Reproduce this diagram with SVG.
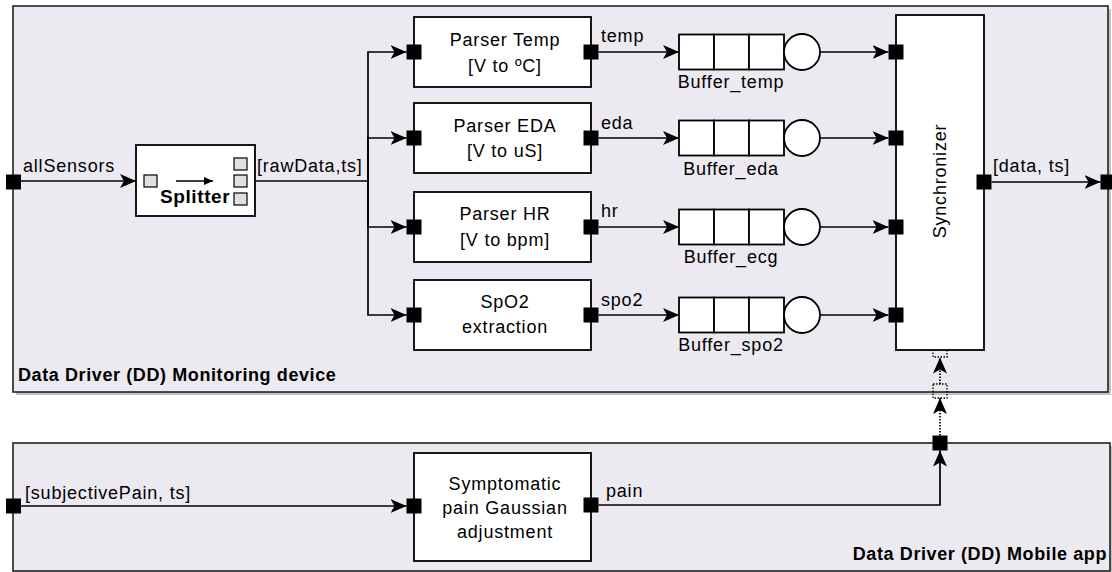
<svg xmlns="http://www.w3.org/2000/svg" width="1112" height="572" viewBox="0 0 1112 572">
<defs>
<style>
.cont{fill:#eceaf0;stroke:#222;stroke-width:1.6}
.shadow{fill:#c4c4c4}
.box{fill:#fff;stroke:#000;stroke-width:1.8}
.port{fill:#000}
.edge{fill:none;stroke:#000;stroke-width:1.7}
.dot{fill:none;stroke:#000;stroke-width:1.7;stroke-dasharray:1.5 1.5}
.dsq{fill:none;stroke:#000;stroke-width:1.3;stroke-dasharray:1.5 1.5}
.t{font-family:"Liberation Sans",Arial,sans-serif;font-size:18px;letter-spacing:0.8px;fill:#000}
.c{text-anchor:middle}
.e{text-anchor:end}
.b{font-weight:bold;letter-spacing:0.6px}
.mini{fill:#e0e0e0;stroke:#000;stroke-width:1.2}
</style>
<marker id="arr" markerUnits="userSpaceOnUse" markerWidth="16" markerHeight="14" viewBox="0 0 16 14" refX="16" refY="7" orient="auto"><path d="M0,0 L16,7 L0,14 L4,7 Z" fill="#000"/></marker>
<marker id="sm" markerUnits="userSpaceOnUse" markerWidth="9" markerHeight="8" viewBox="0 0 9 8" refX="9" refY="4" orient="auto"><path d="M0,0 L9,4 L0,8 Z" fill="#000"/></marker>
</defs>

<g id="dd-monitoring">
<rect class="shadow" x="16" y="9" width="1095" height="386"/>
<rect class="cont" x="13" y="6" width="1095" height="386"/>
<text class="t b" x="18" y="381">Data Driver (DD) Monitoring device</text>
</g>
<g id="dd-mobile">
<rect class="shadow" x="16" y="446" width="1097" height="128"/>
<rect class="cont" x="13" y="443" width="1097" height="128"/>
<text class="t b e" x="1107" y="560">Data Driver (DD) Mobile app</text>
</g>

<g id="connectors">
<path class="edge" d="M20.5 181 H136" marker-end="url(#arr)"/>
<path class="edge" d="M255 181 H368 V52 H406.5" marker-end="url(#arr)"/>
<path class="edge" d="M368 181 V138 H406.5" marker-end="url(#arr)"/>
<path class="edge" d="M368 181 V227 H406.5" marker-end="url(#arr)"/>
<path class="edge" d="M368 181 V315 H406.5" marker-end="url(#arr)"/>
<path class="edge" d="M598.5 52 H679" marker-end="url(#arr)"/>
<path class="edge" d="M598.5 138 H679" marker-end="url(#arr)"/>
<path class="edge" d="M598.5 227 H679" marker-end="url(#arr)"/>
<path class="edge" d="M598.5 315 H679" marker-end="url(#arr)"/>
<path class="edge" d="M820 52 H888.5" marker-end="url(#arr)"/>
<path class="edge" d="M820 138 H888.5" marker-end="url(#arr)"/>
<path class="edge" d="M820 227 H888.5" marker-end="url(#arr)"/>
<path class="edge" d="M820 315 H888.5" marker-end="url(#arr)"/>
<path class="edge" d="M991.5 182 H1100.5" marker-end="url(#arr)"/>
<path class="edge" d="M20.5 506 H406.5" marker-end="url(#arr)"/>
<path class="edge" d="M598.5 505 H940 V450.5" marker-end="url(#arr)"/>
<path class="dot" d="M940 435.5 V398" marker-end="url(#arr)"/>
<path class="dot" d="M940 384 V357.5" marker-end="url(#arr)"/>
<text class="t" x="23" y="172">allSensors</text>
<text class="t" x="257" y="172">[rawData,ts]</text>
<text class="t" x="601" y="42">temp</text>
<text class="t" x="601" y="129">eda</text>
<text class="t" x="601" y="217">hr</text>
<text class="t" x="601" y="306">spo2</text>
<text class="t" x="993" y="172">[data, ts]</text>
<text class="t" x="25" y="499">[subjectivePain, ts]</text>
<text class="t" x="606" y="497">pain</text>
</g>

<g id="port-allSensors"><rect class="port" x="6" y="174.5" width="15" height="15"/></g>
<g id="port-data-out"><rect class="port" x="1100.5" y="174.5" width="15" height="15"/></g>
<g id="port-subjectivePain"><rect class="port" x="6" y="498.5" width="15" height="15"/></g>
<g id="port-pain-out"><rect class="port" x="932.5" y="435.5" width="15" height="15"/></g>
<g id="proxy-ports">
<rect class="dsq" x="933" y="343" width="14" height="14"/>
<rect class="dsq" x="933" y="384" width="14" height="14"/>
</g>

<g id="splitter">
<rect class="box" x="136" y="145" width="119" height="71"/>
<rect class="mini" x="144" y="175" width="13" height="12"/>
<rect class="mini" x="234" y="158" width="13" height="12"/>
<rect class="mini" x="234" y="175" width="13" height="12"/>
<rect class="mini" x="234" y="193" width="13" height="12"/>
<path d="M176 181 H213" stroke="#000" stroke-width="1.5" marker-end="url(#sm)"/>
<text class="t b" x="160" y="203" style="font-size:19px">Splitter</text>
</g>

<g id="parser-temp">
<rect class="box" x="414" y="17" width="177" height="70"/>
<rect class="port" x="406.5" y="44.5" width="15" height="15"/>
<rect class="port" x="583.5" y="44.5" width="15" height="15"/>
<text class="t c" x="505" y="46">Parser Temp</text>
<text class="t c" x="505" y="72">[V to ºC]</text>
</g>
<g id="parser-eda">
<rect class="box" x="414" y="103" width="177" height="70"/>
<rect class="port" x="406.5" y="130.5" width="15" height="15"/>
<rect class="port" x="583.5" y="130.5" width="15" height="15"/>
<text class="t c" x="505" y="132">Parser EDA</text>
<text class="t c" x="505" y="157">[V to uS]</text>
</g>
<g id="parser-hr">
<rect class="box" x="414" y="192" width="177" height="70"/>
<rect class="port" x="406.5" y="219.5" width="15" height="15"/>
<rect class="port" x="583.5" y="219.5" width="15" height="15"/>
<text class="t c" x="505" y="220">Parser HR</text>
<text class="t c" x="505" y="246">[V to bpm]</text>
</g>
<g id="spo2-extraction">
<rect class="box" x="414" y="280" width="177" height="70"/>
<rect class="port" x="406.5" y="307.5" width="15" height="15"/>
<rect class="port" x="583.5" y="307.5" width="15" height="15"/>
<text class="t c" x="505" y="308">SpO2</text>
<text class="t c" x="505" y="333">extraction</text>
</g>

<g id="buffer-temp">
<rect class="box" x="679" y="34.5" width="35" height="35"/>
<rect class="box" x="714" y="34.5" width="35" height="35"/>
<rect class="box" x="749" y="34.5" width="35" height="35"/>
<circle class="box" cx="802" cy="52" r="18"/>
<text class="t c" x="731" y="88">Buffer_temp</text>
</g>
<g id="buffer-eda">
<rect class="box" x="679" y="120.5" width="35" height="35"/>
<rect class="box" x="714" y="120.5" width="35" height="35"/>
<rect class="box" x="749" y="120.5" width="35" height="35"/>
<circle class="box" cx="802" cy="138" r="18"/>
<text class="t c" x="731" y="175">Buffer_eda</text>
</g>
<g id="buffer-ecg">
<rect class="box" x="679" y="209.5" width="35" height="35"/>
<rect class="box" x="714" y="209.5" width="35" height="35"/>
<rect class="box" x="749" y="209.5" width="35" height="35"/>
<circle class="box" cx="802" cy="227" r="18"/>
<text class="t c" x="731" y="263">Buffer_ecg</text>
</g>
<g id="buffer-spo2">
<rect class="box" x="679" y="297.5" width="35" height="35"/>
<rect class="box" x="714" y="297.5" width="35" height="35"/>
<rect class="box" x="749" y="297.5" width="35" height="35"/>
<circle class="box" cx="802" cy="315" r="18"/>
<text class="t c" x="731" y="351">Buffer_spo2</text>
</g>

<g id="synchronizer">
<rect class="box" x="896" y="15" width="88" height="335"/>
<rect class="port" x="888.5" y="44.5" width="15" height="15"/>
<rect class="port" x="888.5" y="130.5" width="15" height="15"/>
<rect class="port" x="888.5" y="219.5" width="15" height="15"/>
<rect class="port" x="888.5" y="307.5" width="15" height="15"/>
<rect class="port" x="976.5" y="174.5" width="15" height="15"/>
<text class="t c" transform="translate(946,181) rotate(-90)" x="0" y="0">Synchronizer</text>
</g>

<g id="symptomatic-pain">
<rect class="box" x="414" y="453" width="177" height="108"/>
<rect class="port" x="406.5" y="498.5" width="15" height="15"/>
<rect class="port" x="583.5" y="497.5" width="15" height="15"/>
<text class="t c" x="505" y="490">Symptomatic</text>
<text class="t c" x="505" y="514">pain Gaussian</text>
<text class="t c" x="505" y="538">adjustment</text>
</g>
</svg>
